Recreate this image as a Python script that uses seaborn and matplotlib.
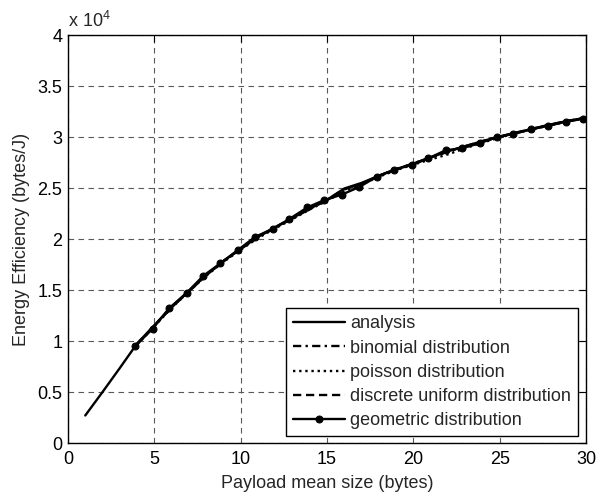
import numpy as np
import pandas as pd
import matplotlib
matplotlib.use("Agg")
import matplotlib.pyplot as plt
from matplotlib.ticker import FuncFormatter
import seaborn as sns

# Analytical energy efficiency vs. payload mean size
x_analysis = [1, 2, 3, 4, 5, 6, 7, 8, 9, 10, 11, 12, 13, 14, 15, 16, 17, 18, 19, 20,
              21, 22, 23, 24, 25, 26, 27, 28, 29, 30]
y_analysis = [2700, 5000, 7350, 9750, 11550, 13350, 14900, 16450, 17850, 19050,
              20200, 21150, 22050, 23000, 23850, 24950, 25500, 26200, 26850, 27400,
              28000, 28600, 29100, 29600, 30050, 30450, 30850, 31250, 31600, 31900]

# Simulated payload distributions
x_sim = [4, 5, 6, 7, 8, 9, 10, 11, 12, 13, 14, 15, 16, 17, 18, 19, 20, 21, 22, 23,
         24, 25, 26, 27, 28, 29, 30]
y_binomial = [9700, 11500, 13300, 14850, 16450, 17800, 19000, 20150, 21100, 22000,
              22950, 23800, 24850, 25450, 26150, 26800, 27400, 28000, 28550, 29050,
              29550, 30000, 30400, 30850, 31200, 31550, 31850]
y_poisson = [9650, 11450, 13250, 14850, 16400, 17750, 18950, 20100, 21050, 21950,
             22900, 23750, 24700, 25350, 26100, 26750, 27300, 27800, 28300, 28900,
             29450, 29950, 30400, 30800, 31200, 31550, 31850]
y_uniform = [9700, 11500, 13300, 14900, 16450, 17850, 19000, 20200, 21150, 22050,
             23000, 23850, 24900, 25400, 26200, 26850, 27400, 28000, 28600, 29100,
             29600, 30050, 30450, 30850, 31250, 31600, 31900]

x_geometric = [3.88, 4.90, 5.85, 6.89, 7.84, 8.82, 9.86, 10.83, 11.85, 12.81, 13.86,
               14.82, 15.85, 16.87, 17.87, 18.89, 19.90, 20.86, 21.87, 22.83, 23.86,
               24.82, 25.79, 26.81, 27.82, 28.82, 29.84]
y_geometric = [9480, 11200, 13200, 14750, 16400, 17600, 18950, 20200, 21000, 21950,
               23100, 23800, 24350, 25100, 26100, 26800, 27250, 27900, 28700, 28900,
               29400, 30000, 30300, 30750, 31100, 31500, 31800]

x_ticks = [0, 5, 10, 15, 20, 25, 30]
y_ticks = [0, 5000, 10000, 15000, 20000, 25000, 30000, 35000, 40000]

sns.set_style("white")
plt.rcParams["font.family"] = ["Liberation Sans", "DejaVu Sans"]
plt.rcParams["mathtext.fontset"] = "custom"
plt.rcParams["mathtext.rm"] = "Liberation Sans"
plt.rcParams["mathtext.it"] = "Liberation Sans"

FS = 13

fig = plt.figure(figsize=(5.98, 4.98), dpi=100)
ax = fig.add_axes([0.1137, 0.1104, 0.8663, 0.8193])

lw = 1.7
sns.lineplot(x=x_analysis, y=y_analysis, ax=ax, color="black", lw=lw,
             linestyle="-", label="analysis")
sns.lineplot(x=x_sim, y=y_binomial, ax=ax, color="black", lw=lw,
             linestyle=(0, (3.5, 1.8, 1, 1.8)), label="binomial distribution")
sns.lineplot(x=x_sim, y=y_poisson, ax=ax, color="black", lw=lw,
             linestyle=(0, (1, 1.6)), label="poisson distribution")
sns.lineplot(x=x_sim, y=y_uniform, ax=ax, color="black", lw=lw,
             linestyle=(0, (3.5, 2)), label="discrete uniform distribution")
sns.lineplot(x=x_geometric, y=y_geometric, ax=ax, color="black", lw=lw,
             linestyle="-", marker="o", markersize=5, markeredgecolor="black",
             label="geometric distribution")

ax.set_xlim(0, 30)
ax.set_ylim(0, 40000)
ax.set_xticks(x_ticks)
ax.set_yticks(y_ticks)
ax.yaxis.set_major_formatter(FuncFormatter(lambda v, p: f"{v / 1e4:g}"))

ax.grid(True, linestyle=(0, (5, 4)), color="0.35", linewidth=0.8)
ax.tick_params(direction="in", length=5, width=0.8, top=True, right=True,
               labelsize=FS, colors="black")
ax.tick_params(axis="x", pad=6)
ax.tick_params(axis="y", pad=4)
for s in ax.spines.values():
    s.set_visible(True)
    s.set_color("black")
    s.set_linewidth(1.0)

ax.set_xlabel("Payload mean size (bytes)", fontsize=FS, labelpad=5)
ax.set_ylabel("Energy Efficiency (bytes/J)", fontsize=FS, labelpad=5)

ax.text(0.0, 1.01, r"x 10$^{4}$", transform=ax.transAxes, fontsize=FS,
        ha="left", va="bottom")

leg = ax.legend(loc="lower right", bbox_to_anchor=(0.985, 0.016), fontsize=FS,
                frameon=True, fancybox=False, edgecolor="black", framealpha=1,
                handlelength=2.85, handletextpad=0.3, labelspacing=0.4,
                borderpad=0.4, borderaxespad=0)
leg.get_frame().set_linewidth(1.0)

fig.savefig("out.png", dpi=100)
